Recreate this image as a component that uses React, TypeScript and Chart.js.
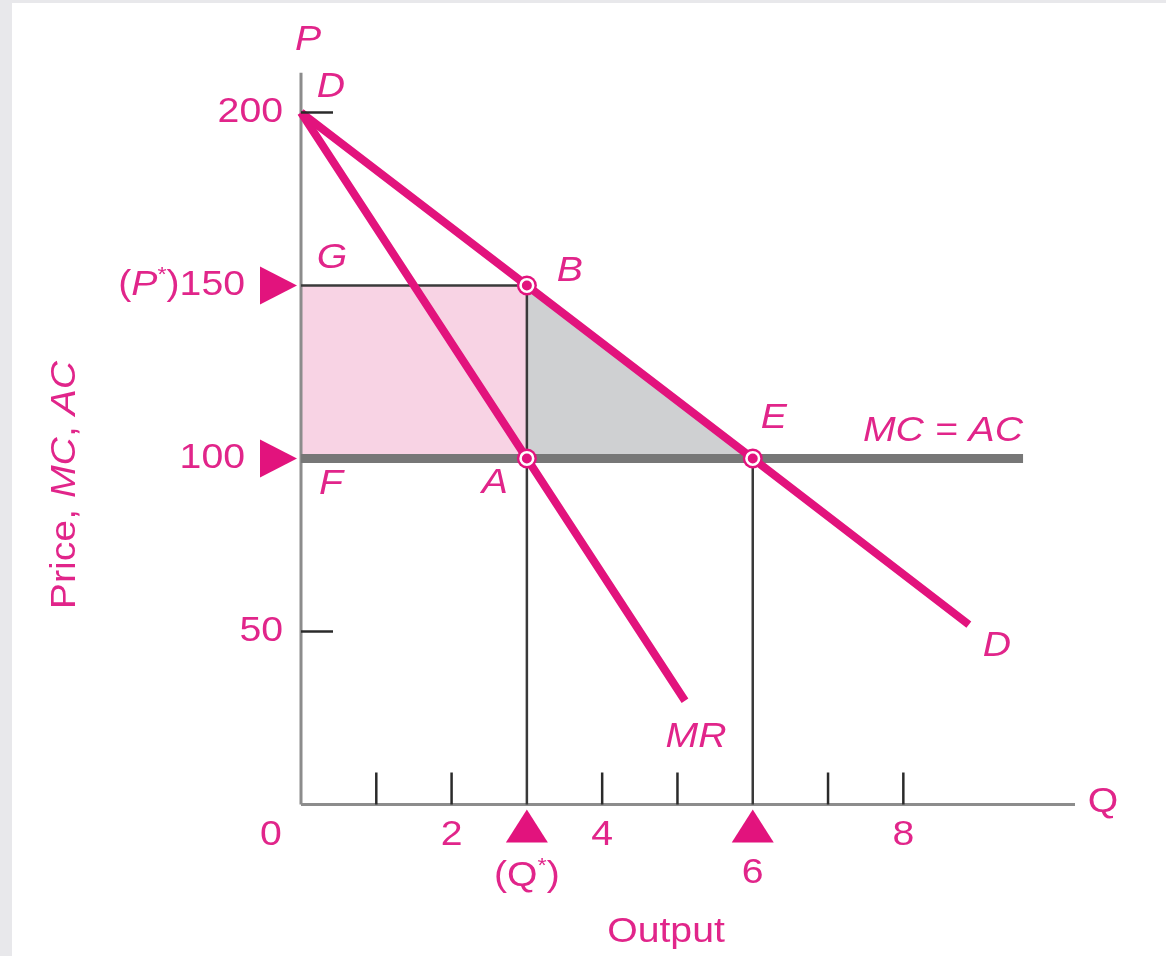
import React, { useEffect, useRef } from 'react';
import { Chart, registerables } from 'chart.js';

Chart.register(...registerables);

// ---- data ----
const Q_MAX = 10.28;
const P_MAX = 211.5;
const demandQ = [0, 3, 6, 8.87];
const demandP = [200, 150, 100, 52];
const mrQ = [0, 3, 5.1];
const mrP = [200, 100, 30];
const mcQ = [0, 9.59];
const mcP = [100, 100];
const monoQ = 3; // Q*
const monoP = 150; // P*
const compQ = 6;
const costP = 100;
const pointNames = ['B', 'A', 'E'];
const pointQ = [3, 3, 6];
const pointP = [150, 100, 100];
const xTickMarks = [1, 2, 4, 5, 7, 8];
const yTickMarks = [200, 50];
const xTickLabels = ['0', '2', '4', '8'];
const xTickLabelValues = [0, 2, 4, 8];
const yTickLabels = ['200', '50'];
const yTickLabelValues = [200, 50];

const PINK = '#e2137d';
const TEXT_PINK = '#e1258a';
const FONT = '"Liberation Sans", Arial, sans-serif';
const FS = 35;
const SX = 1.12;

type Part = { t: string; italic?: boolean; sup?: boolean };

function partFont(p: Part, size: number) {
  const s = p.sup ? size * 0.6 : size;
  return `${p.italic ? 'italic ' : ''}${s}px ${FONT}`;
}

function drawRich(ctx: CanvasRenderingContext2D, parts: Part[], x: number, y: number, align: 'left' | 'center' | 'right', size = FS) {
  ctx.save();
  ctx.textBaseline = 'middle';
  ctx.textAlign = 'left';
  ctx.fillStyle = TEXT_PINK;
  let total = 0;
  const widths = parts.map((p) => {
    ctx.font = partFont(p, size);
    const w = ctx.measureText(p.t).width * SX;
    total += w;
    return w;
  });
  let cx = align === 'left' ? x : align === 'center' ? x - total / 2 : x - total;
  parts.forEach((p, i) => {
    ctx.font = partFont(p, size);
    ctx.save();
    ctx.translate(cx, y + (p.sup ? -size * 0.3 : 0));
    ctx.scale(SX, 1);
    ctx.fillText(p.t, 0, 0);
    ctx.restore();
    cx += widths[i];
  });
  ctx.restore();
}

const txt = (t: string, italic = false): Part[] => [{ t, italic }];

const annotate = {
  id: 'annotate',
  afterDatasetsDraw(chart: any) {
    const ctx: CanvasRenderingContext2D = chart.ctx;
    const xs = chart.scales.x;
    const ys = chart.scales.y;
    const X = (v: number) => xs.getPixelForValue(v);
    const Y = (v: number) => ys.getPixelForValue(v);
    const x0 = X(0);
    const y0 = Y(0);

    // tick marks
    ctx.save();
    ctx.strokeStyle = '#2a2a2a';
    ctx.lineWidth = 2.5;
    xTickMarks.forEach((q) => {
      ctx.beginPath();
      ctx.moveTo(X(q), y0);
      ctx.lineTo(X(q), y0 - 32);
      ctx.stroke();
    });
    yTickMarks.forEach((p) => {
      ctx.beginPath();
      ctx.moveTo(x0, Y(p));
      ctx.lineTo(x0 + 32, Y(p));
      ctx.stroke();
    });
    ctx.restore();

    // marker triangles
    ctx.save();
    ctx.fillStyle = PINK;
    [monoP, costP].forEach((p) => {
      const py = Y(p);
      ctx.beginPath();
      ctx.moveTo(x0 - 4, py);
      ctx.lineTo(x0 - 41, py - 19);
      ctx.lineTo(x0 - 41, py + 19);
      ctx.closePath();
      ctx.fill();
    });
    [monoQ, compQ].forEach((q) => {
      const px = X(q);
      ctx.beginPath();
      ctx.moveTo(px, y0 + 5);
      ctx.lineTo(px - 21, y0 + 38);
      ctx.lineTo(px + 21, y0 + 38);
      ctx.closePath();
      ctx.fill();
    });
    ctx.restore();

    // y tick labels
    yTickLabels.forEach((l, i) => drawRich(ctx, txt(l), x0 - 18, Y(yTickLabelValues[i]), 'right'));
    drawRich(ctx, [{ t: '(' }, { t: 'P', italic: true }, { t: '*', sup: true }, { t: ')' + monoP }], x0 - 56, Y(monoP), 'right');
    drawRich(ctx, txt(String(costP)), x0 - 56, Y(costP), 'right');

    // x tick labels
    xTickLabels.forEach((l, i) => {
      const v = xTickLabelValues[i];
      drawRich(ctx, txt(l), v === 0 ? x0 - 30 : X(v), y0 + 31, 'center');
    });
    drawRich(ctx, [{ t: '(Q' }, { t: '*', sup: true }, { t: ')' }], X(monoQ), y0 + 72, 'center');
    drawRich(ctx, txt(String(compQ)), X(compQ), y0 + 69, 'center');

    // axis names
    drawRich(ctx, txt('P', true), x0 + 7, Y(P_MAX) - 32, 'center');
    drawRich(ctx, txt('Q'), X(Q_MAX) + 28, y0 - 2, 'center');
    drawRich(ctx, txt('Output'), 666, 932, 'center');
    ctx.save();
    ctx.translate(65, 485);
    ctx.rotate(-Math.PI / 2);
    drawRich(ctx, [{ t: 'Price, ' }, { t: 'MC', italic: true }, { t: ', ' }, { t: 'AC', italic: true }], 0, 0, 'center');
    ctx.restore();

    // curve & point labels
    drawRich(ctx, txt('D', true), X(demandQ[0]) + 30, Y(demandP[0]) - 25, 'center');
    const dl = demandQ.length - 1;
    drawRich(ctx, txt('D', true), X(demandQ[dl]) + 28, Y(demandP[dl]) + 22, 'center');
    const ml = mrQ.length - 1;
    drawRich(ctx, txt('MR', true), X(mrQ[ml]) + 11, Y(mrP[ml]) + 37, 'center');
    drawRich(ctx, txt('MC = AC', true), X(mcQ[1]), Y(mcP[1]) - 27, 'right');
    drawRich(ctx, txt('G', true), x0 + 31, Y(monoP) - 27, 'center');
    drawRich(ctx, txt('F', true), x0 + 30, Y(costP) + 26, 'center');
    const offs: Record<string, [number, number]> = { B: [43, -14], A: [-32, 25], E: [21, -40] };
    pointNames.forEach((n, i) => {
      const [dx, dy] = offs[n];
      drawRich(ctx, txt(n, true), X(pointQ[i]) + dx, Y(pointP[i]) + dy, 'center');
    });
  },
};

const pts = (qs: number[], ps: number[]) => qs.map((q, i) => ({ x: q, y: ps[i] }));

export default function App() {
  const ref = useRef<HTMLCanvasElement>(null);
  useEffect(() => {
    document.body.style.margin = '0';
    const canvas = ref.current!;
    const base = { pointRadius: 0, clip: false as any, tension: 0, fill: false };
    const chart = new Chart(canvas, {
      type: 'line',
      data: {
        datasets: [
          {
            ...base,
            data: pts(pointQ, pointP),
            showLine: false,
            pointRadius: 6.3,
            pointBackgroundColor: PINK,
            pointBorderColor: '#ffffff',
            pointBorderWidth: 2.6,
            order: 0,
          },
          {
            ...base,
            data: pts(pointQ, pointP),
            showLine: false,
            pointRadius: 10,
            pointBackgroundColor: PINK,
            pointBorderWidth: 0,
            order: 0.5,
          },
          { ...base, data: pts(demandQ, demandP), borderColor: PINK, borderWidth: 8, order: 1 },
          { ...base, data: pts(mrQ, mrP), borderColor: PINK, borderWidth: 8, order: 2 },
          { ...base, data: pts(mcQ, mcP), borderColor: '#777777', borderWidth: 9, order: 3 },
          { ...base, data: [{ x: 0, y: monoP }, { x: monoQ, y: monoP }], borderColor: '#3a3a3a', borderWidth: 2.5, order: 4 },
          { ...base, data: [{ x: monoQ, y: monoP }, { x: monoQ, y: 0 }], borderColor: '#3a3a3a', borderWidth: 2.5, order: 4 },
          { ...base, data: [{ x: compQ, y: costP }, { x: compQ, y: 0 }], borderColor: '#3a3a3a', borderWidth: 2.5, order: 4 },
          { ...base, data: [{ x: 0, y: 0 }, { x: Q_MAX, y: 0 }], borderColor: '#8c8c8c', borderWidth: 3, order: 5 },
          { ...base, data: [{ x: 0, y: 0 }, { x: 0, y: P_MAX }], borderColor: '#8c8c8c', borderWidth: 3, order: 5 },
          {
            ...base,
            data: [{ x: monoQ, y: monoP }, { x: compQ, y: costP }],
            borderWidth: 0,
            borderColor: 'rgba(0,0,0,0)',
            backgroundColor: '#cfd0d2',
            fill: { value: costP } as any,
            order: 6,
          },
          {
            ...base,
            data: [{ x: 0, y: monoP }, { x: monoQ, y: monoP }],
            borderWidth: 0,
            borderColor: 'rgba(0,0,0,0)',
            backgroundColor: '#f8d3e4',
            fill: { value: costP } as any,
            order: 6,
          },
        ] as any,
      },
      options: {
        responsive: false,
        animation: false,
        devicePixelRatio: 1,
        events: [],
        layout: { padding: { left: 301, right: 91, top: 72.7, bottom: 151.5 } },
        scales: {
          x: { type: 'linear', min: 0, max: Q_MAX, display: false },
          y: { type: 'linear', min: 0, max: P_MAX, display: false },
        },
        plugins: { legend: { display: false }, tooltip: { enabled: false } },
      },
      plugins: [annotate],
    });
    return () => chart.destroy();
  }, []);
  return (
    <div style={{ position: 'relative', width: 1166, height: 956, background: '#e8e8eb', overflow: 'hidden' }}>
      <div style={{ position: 'absolute', left: 12, top: 3, right: 0, bottom: 0, background: '#ffffff' }} />
      <canvas ref={ref} width={1166} height={956} style={{ position: 'absolute', left: 0, top: 0, width: 1166, height: 956 }} />
    </div>
  );
}
